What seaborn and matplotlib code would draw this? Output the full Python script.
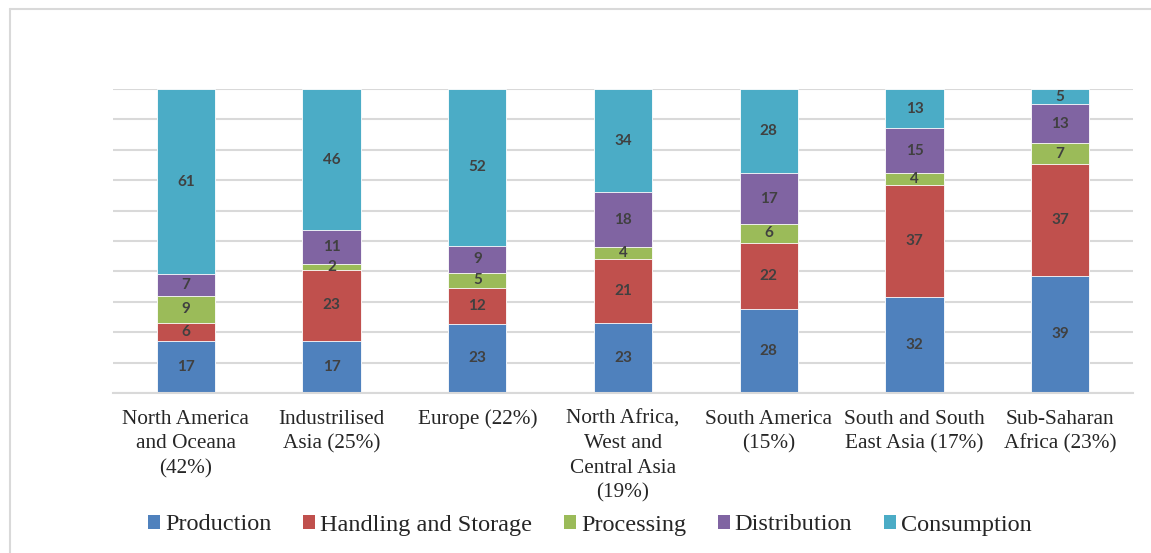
import numpy as np
import pandas as pd
import matplotlib.pyplot as plt
import seaborn as sns
from matplotlib.lines import Line2D
from matplotlib.patches import Patch

regions = ["North America\nand Oceana\n(42%)", "Industrilised\nAsia (25%)", "Europe (22%)",
           "North Africa,\nWest and\nCentral Asia\n(19%)", "South America\n(15%)",
           "South and South\nEast Asia (17%)", "Sub-Saharan\nAfrica (23%)"]
stages = ["Production", "Handling and Storage", "Processing", "Distribution", "Consumption"]
production = [17, 17, 23, 23, 28, 32, 39]
handling = [6, 23, 12, 21, 22, 37, 37]
processing = [9, 2, 5, 4, 6, 4, 7]
distribution = [7, 11, 9, 18, 17, 15, 13]
consumption = [61, 46, 52, 34, 28, 13, 5]
colors = ["#4F81BD", "#C0504D", "#9BBB59", "#8064A2", "#4BACC6"]

vals = np.array([production, handling, processing, distribution, consumption], dtype=float)
share = vals / vals.sum(axis=0) * 100  # 100% stacked
tops = share.cumsum(axis=0)
bottoms = tops - share

sns.set_style("white")
fig = plt.figure(figsize=(11.51, 5.53), dpi=100)
ax = fig.add_axes([113 / 1151, 1 - 393 / 553, 1020 / 1151, 304 / 553])

# draw cumulative bars from top layer down so each overlaps the next
for i in range(len(stages) - 1, -1, -1):
    df = pd.DataFrame({"region": regions, "top": tops[i]})
    sns.barplot(data=df, x="region", y="top", color=colors[i], width=0.4,
                errorbar=None, ax=ax, saturation=1, edgecolor="white", linewidth=0.6,
                zorder=2)

for i in range(len(stages)):
    for j in range(len(regions)):
        ax.text(j, bottoms[i, j] + share[i, j] / 2, f"{int(vals[i, j])}",
                ha="center", va="center", fontsize=11, fontweight="bold",
                color="#404040", family=["Lato", "DejaVu Sans"], zorder=3)

ax.set_xlim(-0.5, 6.5)
ax.set_ylim(0, 100)
ax.set_yticks(np.arange(0, 101, 10))
ax.set_yticklabels([])
ax.set_xticks(range(len(regions)))
ax.set_xticklabels(regions, family=["Liberation Serif", "DejaVu Serif"], fontsize=15.3,
                   linespacing=1.4, va="top")
ax.yaxis.grid(True, color="#d9d9d9", linewidth=1.5, zorder=0)
ax.set_axisbelow(True)
ax.tick_params(axis="both", length=0)
ax.tick_params(axis="x", pad=12)
ax.set_xlabel("")
ax.set_ylabel("")
for s in ["left", "right", "top"]:
    ax.spines[s].set_visible(False)
ax.spines["bottom"].set_color("#d9d9d9")
ax.spines["bottom"].set_linewidth(1.5)

handles = [Patch(facecolor=c, edgecolor="none") for c in colors]
fig.legend(handles, stages, loc="center", bbox_to_anchor=(590 / 1151, 1 - 525 / 553),
           ncol=5, frameon=False, handlelength=0.5, handleheight=0.5, handletextpad=0.2,
           columnspacing=1.3, prop={"family": "Liberation Serif", "size": 17.5})

# outer chart border
fig.add_artist(Line2D([10 / 1151, 10 / 1151], [0, 1 - 9 / 553], color="#d9d9d9", lw=1.5))
fig.add_artist(Line2D([10 / 1151, 1], [1 - 9 / 553, 1 - 9 / 553], color="#d9d9d9", lw=1.5))

fig.savefig("out.png", dpi=100)
